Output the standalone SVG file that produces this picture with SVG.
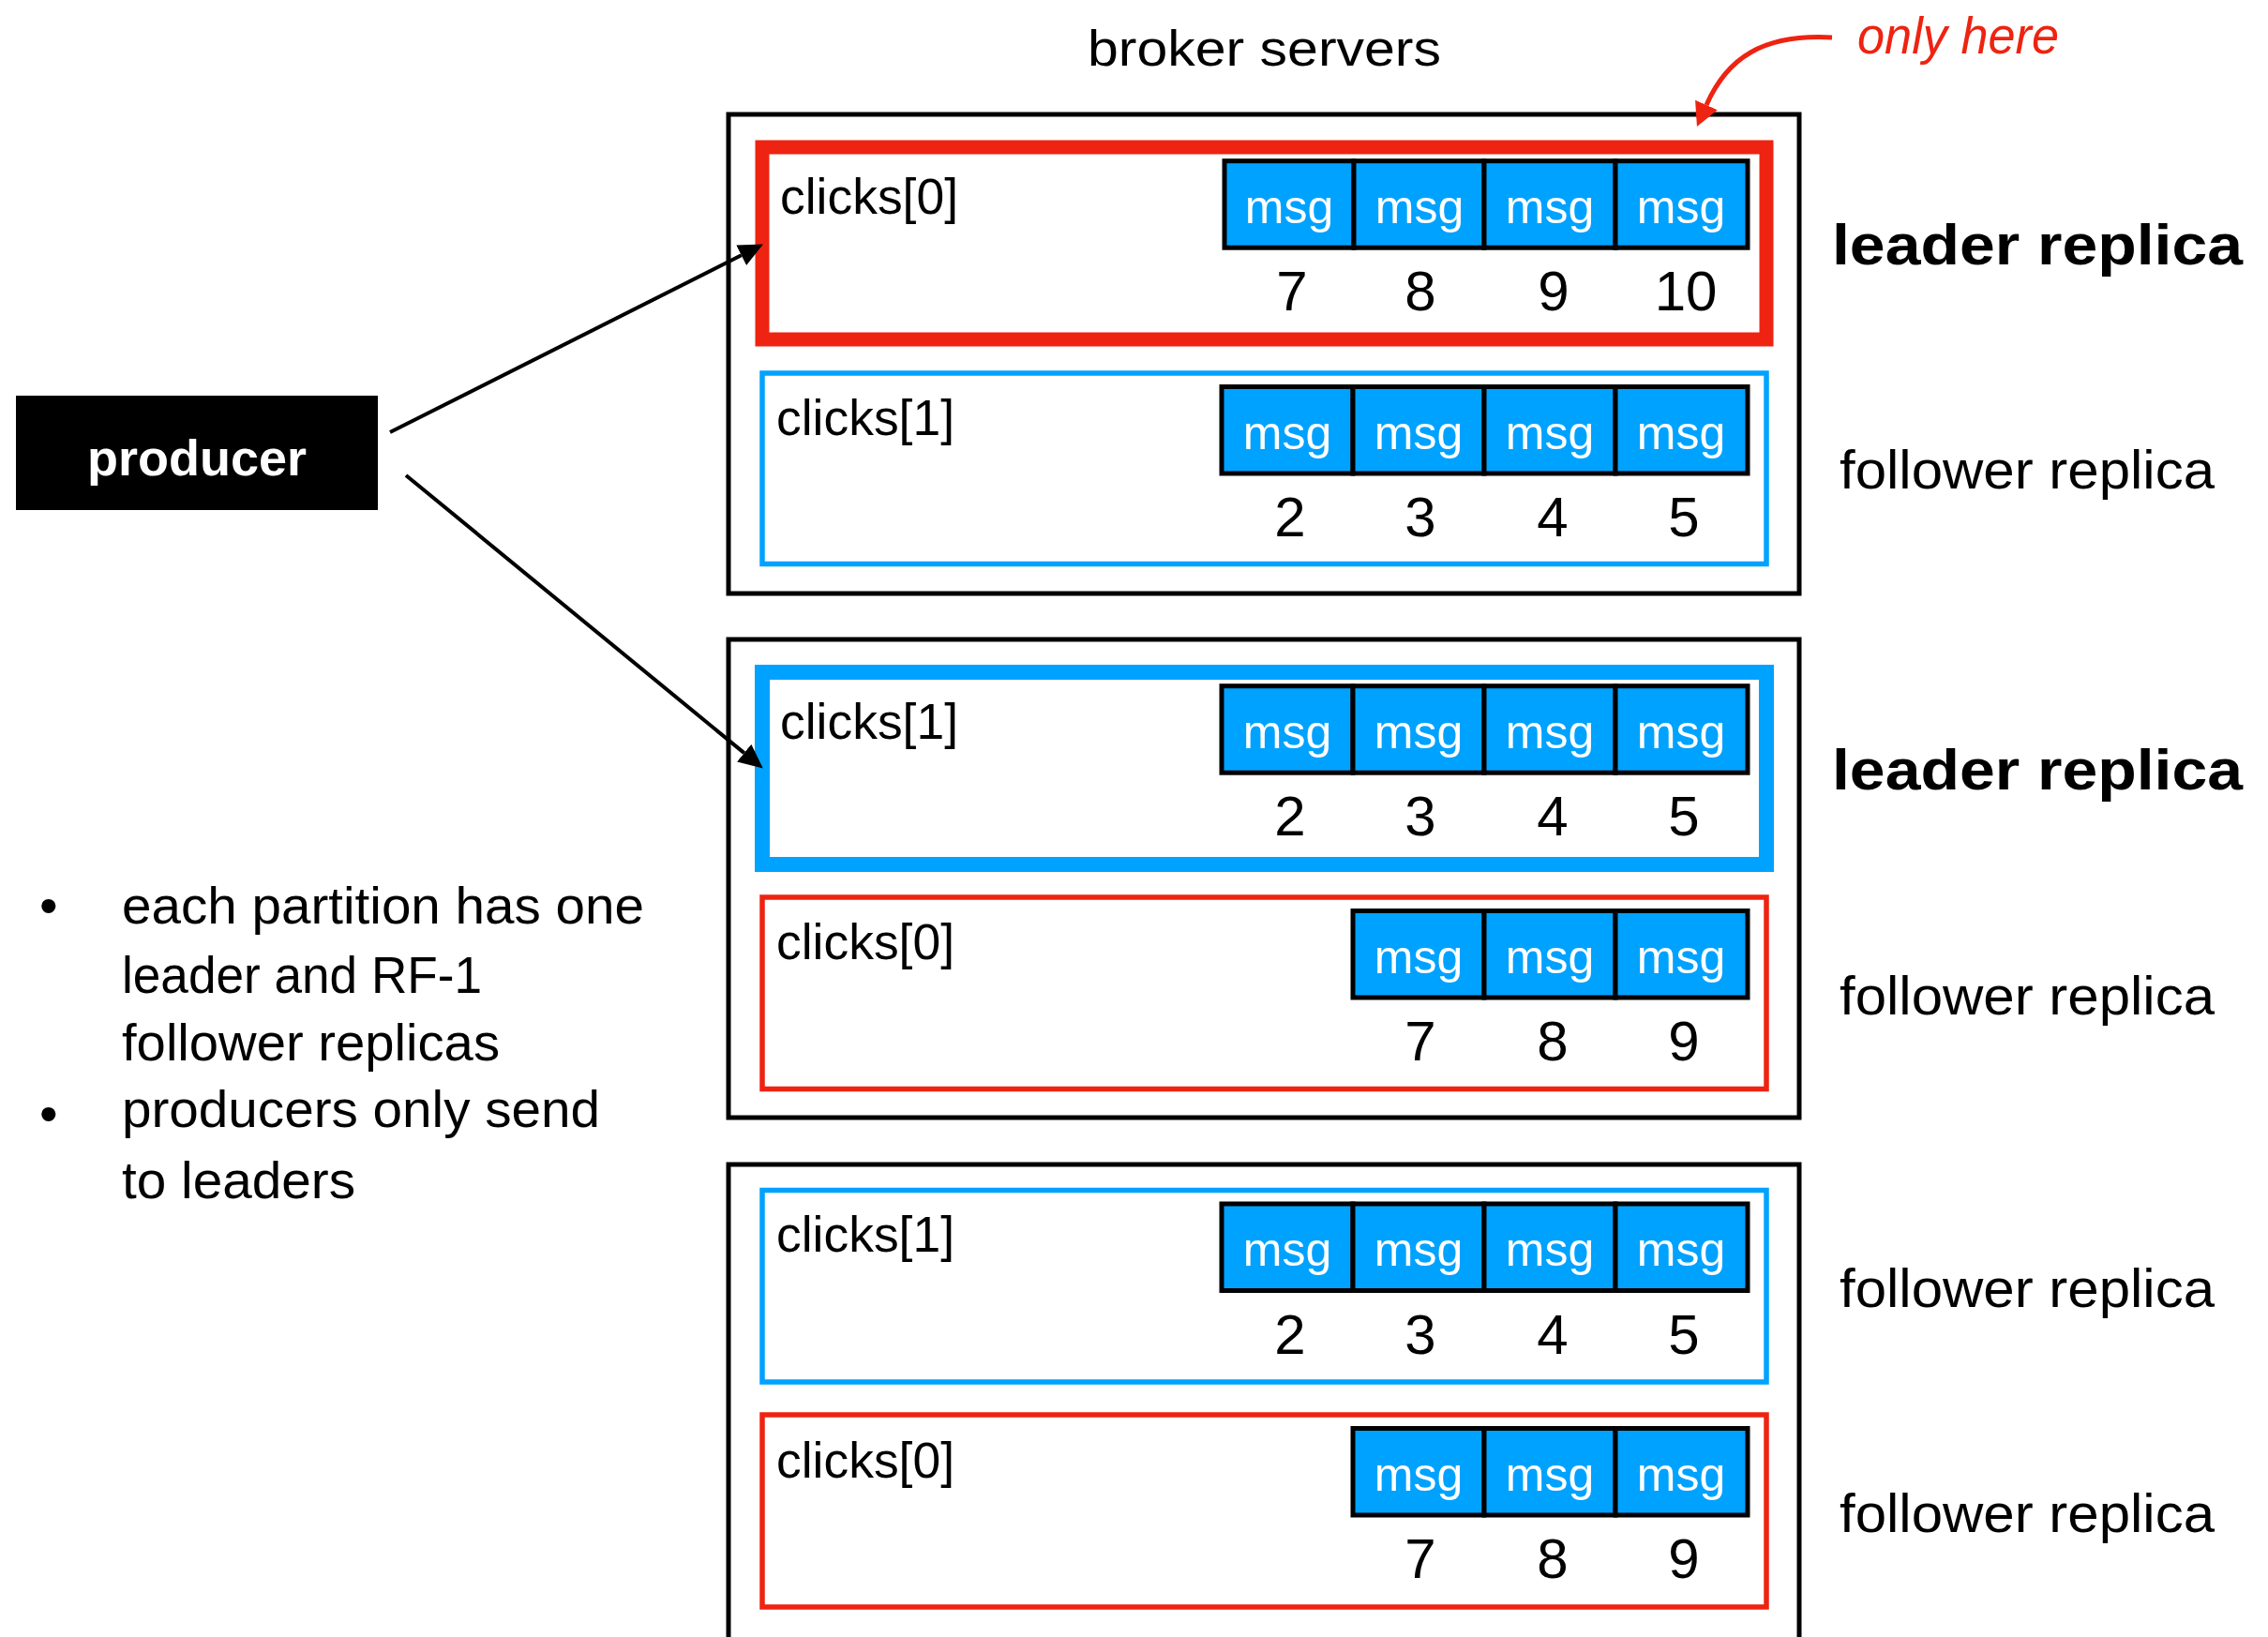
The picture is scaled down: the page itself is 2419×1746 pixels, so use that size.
<svg xmlns="http://www.w3.org/2000/svg" width="2419" height="1746" viewBox="0 0 2419 1746">
<defs>
<style>
text{font-family:"Liberation Sans","DejaVu Sans",sans-serif;fill:#000}
.broker{fill:none;stroke:#000;stroke-width:5}
.rowRedThick{fill:#fff;stroke:#EE2311;stroke-width:15}
.rowBlueThick{fill:#fff;stroke:#00A2FF;stroke-width:16}
.rowRed{fill:#fff;stroke:#EE2311;stroke-width:5.5}
.rowBlue{fill:#fff;stroke:#00A2FF;stroke-width:5.5}
.cell{fill:#00A2FF;stroke:#000;stroke-width:5}
.msg{font-size:50px;fill:#fff;text-anchor:middle}
.num{font-size:60px;text-anchor:middle}
.part{font-size:54px}
.lead{font-size:62px;font-weight:bold}
.foll{font-size:58px}
.bul{font-size:56px}
.conn{fill:none;stroke:#000;stroke-width:4}
.redconn{fill:none;stroke:#EE2311;stroke-width:5}
</style>
<marker id="ah" markerUnits="userSpaceOnUse" markerWidth="26" markerHeight="24" refX="0" refY="12" orient="auto">
<path d="M0,0 L26,12 L0,24 z" fill="#000"/>
</marker>
<marker id="ahr" markerUnits="userSpaceOnUse" markerWidth="25" markerHeight="26" refX="0" refY="13" orient="auto">
<path d="M0,0 L25,13 L0,26 z" fill="#EE2311"/>
</marker>
</defs>
<rect width="2419" height="1746" fill="#fff"/>

<text id="title" x="1160" y="70" font-size="54" textLength="377" lengthAdjust="spacingAndGlyphs">broker servers</text>

<g id="producer">
<rect x="17" y="422" width="386" height="122" fill="#000"/>
<text x="210" y="507" font-size="54" font-weight="bold" text-anchor="middle" style="fill:#fff">producer</text>
</g>

<!-- broker 1 -->
<g id="broker1">
<rect class="broker" x="777" y="122" width="1142" height="511"/>
<g id="b1-clicks0-leader">
<rect class="rowRedThick" x="813" y="157" width="1071" height="205"/>
<text class="part" x="832" y="228" textLength="190" lengthAdjust="spacingAndGlyphs">clicks[0]</text>
<rect class="cell" x="1306" y="171.7" width="138" height="92.5"/>
<rect class="cell" x="1444" y="171.7" width="139" height="92.5"/>
<rect class="cell" x="1583" y="171.7" width="140" height="92.5"/>
<rect class="cell" x="1723" y="171.7" width="141" height="92.5"/>
<text class="msg" x="1375" y="238">msg</text><text class="msg" x="1514" y="238">msg</text><text class="msg" x="1653" y="238">msg</text><text class="msg" x="1793" y="238">msg</text>
<text class="num" x="1378" y="331">7</text><text class="num" x="1515" y="331">8</text><text class="num" x="1657" y="331">9</text><text class="num" x="1798" y="331">10</text>
</g>
<g id="b1-clicks1-follower">
<rect class="rowBlue" x="813" y="398" width="1071" height="203.5"/>
<text class="part" x="828" y="464" textLength="190" lengthAdjust="spacingAndGlyphs">clicks[1]</text>
<rect class="cell" x="1303" y="412.5" width="140" height="92.5"/>
<rect class="cell" x="1443" y="412.5" width="140" height="92.5"/>
<rect class="cell" x="1583" y="412.5" width="140" height="92.5"/>
<rect class="cell" x="1723" y="412.5" width="141" height="92.5"/>
<text class="msg" x="1373" y="479">msg</text><text class="msg" x="1513" y="479">msg</text><text class="msg" x="1653" y="479">msg</text><text class="msg" x="1793" y="479">msg</text>
<text class="num" x="1376" y="572">2</text><text class="num" x="1515" y="572">3</text><text class="num" x="1656" y="572">4</text><text class="num" x="1796" y="572">5</text>
</g>
<text class="lead" x="1954" y="282" textLength="438" lengthAdjust="spacingAndGlyphs">leader replica</text>
<text class="foll" x="1962" y="521" textLength="400" lengthAdjust="spacingAndGlyphs">follower replica</text>
</g>

<!-- broker 2 -->
<g id="broker2">
<rect class="broker" x="777" y="682" width="1142" height="510"/>
<g id="b2-clicks1-leader">
<rect class="rowBlueThick" x="813" y="717" width="1071" height="205"/>
<text class="part" x="832" y="788" textLength="190" lengthAdjust="spacingAndGlyphs">clicks[1]</text>
<rect class="cell" x="1303" y="731.7" width="140" height="92.5"/>
<rect class="cell" x="1443" y="731.7" width="140" height="92.5"/>
<rect class="cell" x="1583" y="731.7" width="140" height="92.5"/>
<rect class="cell" x="1723" y="731.7" width="141" height="92.5"/>
<text class="msg" x="1373" y="798">msg</text><text class="msg" x="1513" y="798">msg</text><text class="msg" x="1653" y="798">msg</text><text class="msg" x="1793" y="798">msg</text>
<text class="num" x="1376" y="891">2</text><text class="num" x="1515" y="891">3</text><text class="num" x="1656" y="891">4</text><text class="num" x="1796" y="891">5</text>
</g>
<g id="b2-clicks0-follower">
<rect class="rowRed" x="813" y="957" width="1071" height="204.5"/>
<text class="part" x="828" y="1023" textLength="190" lengthAdjust="spacingAndGlyphs">clicks[0]</text>
<rect class="cell" x="1443" y="971.5" width="140" height="92.5"/>
<rect class="cell" x="1583" y="971.5" width="140" height="92.5"/>
<rect class="cell" x="1723" y="971.5" width="141" height="92.5"/>
<text class="msg" x="1513" y="1038">msg</text><text class="msg" x="1653" y="1038">msg</text><text class="msg" x="1793" y="1038">msg</text>
<text class="num" x="1515" y="1131">7</text><text class="num" x="1656" y="1131">8</text><text class="num" x="1796" y="1131">9</text>
</g>
<text class="lead" x="1954" y="842" textLength="438" lengthAdjust="spacingAndGlyphs">leader replica</text>
<text class="foll" x="1962" y="1082" textLength="400" lengthAdjust="spacingAndGlyphs">follower replica</text>
</g>

<!-- broker 3 -->
<g id="broker3">
<rect class="broker" x="777" y="1242" width="1142" height="510"/>
<g id="b3-clicks1-follower">
<rect class="rowBlue" x="813" y="1269.5" width="1071" height="204.5"/>
<text class="part" x="828" y="1335" textLength="190" lengthAdjust="spacingAndGlyphs">clicks[1]</text>
<rect class="cell" x="1303" y="1284" width="140" height="92.5"/>
<rect class="cell" x="1443" y="1284" width="140" height="92.5"/>
<rect class="cell" x="1583" y="1284" width="140" height="92.5"/>
<rect class="cell" x="1723" y="1284" width="141" height="92.5"/>
<text class="msg" x="1373" y="1350">msg</text><text class="msg" x="1513" y="1350">msg</text><text class="msg" x="1653" y="1350">msg</text><text class="msg" x="1793" y="1350">msg</text>
<text class="num" x="1376" y="1443.5">2</text><text class="num" x="1515" y="1443.5">3</text><text class="num" x="1656" y="1443.5">4</text><text class="num" x="1796" y="1443.5">5</text>
</g>
<g id="b3-clicks0-follower">
<rect class="rowRed" x="813" y="1509" width="1071" height="205"/>
<text class="part" x="828" y="1576" textLength="190" lengthAdjust="spacingAndGlyphs">clicks[0]</text>
<rect class="cell" x="1443" y="1523.5" width="140" height="92.5"/>
<rect class="cell" x="1583" y="1523.5" width="140" height="92.5"/>
<rect class="cell" x="1723" y="1523.5" width="141" height="92.5"/>
<text class="msg" x="1513" y="1590">msg</text><text class="msg" x="1653" y="1590">msg</text><text class="msg" x="1793" y="1590">msg</text>
<text class="num" x="1515" y="1683">7</text><text class="num" x="1656" y="1683">8</text><text class="num" x="1796" y="1683">9</text>
</g>
<text class="foll" x="1962" y="1394" textLength="400" lengthAdjust="spacingAndGlyphs">follower replica</text>
<text class="foll" x="1962" y="1634" textLength="400" lengthAdjust="spacingAndGlyphs">follower replica</text>
</g>

<g id="annotation">
<text x="1981" y="57" font-size="56" font-style="italic" style="fill:#EE2311" textLength="215" lengthAdjust="spacingAndGlyphs">only here</text>
</g>

<g id="notes">
<text class="bul" x="42" y="985">•</text>
<text class="bul" x="130" y="985" textLength="557" lengthAdjust="spacingAndGlyphs">each partition has one</text>
<text class="bul" x="130" y="1059" textLength="384" lengthAdjust="spacingAndGlyphs">leader and RF-1</text>
<text class="bul" x="130" y="1131" textLength="403" lengthAdjust="spacingAndGlyphs">follower replicas</text>
<text class="bul" x="42" y="1207">•</text>
<text class="bul" x="130" y="1202" textLength="510" lengthAdjust="spacingAndGlyphs">producers only send</text>
<text class="bul" x="130" y="1278" textLength="249" lengthAdjust="spacingAndGlyphs">to leaders</text>
</g>

<g id="connectors">
<line class="conn" x1="416" y1="461" x2="790.7" y2="272.2" marker-end="url(#ah)"/>
<line class="conn" x1="433" y1="507" x2="793.7" y2="803.1" marker-end="url(#ah)"/>
<path class="redconn" d="M1954,40 C1880,36 1842,62 1820,112" marker-end="url(#ahr)"/>
</g>
</svg>
